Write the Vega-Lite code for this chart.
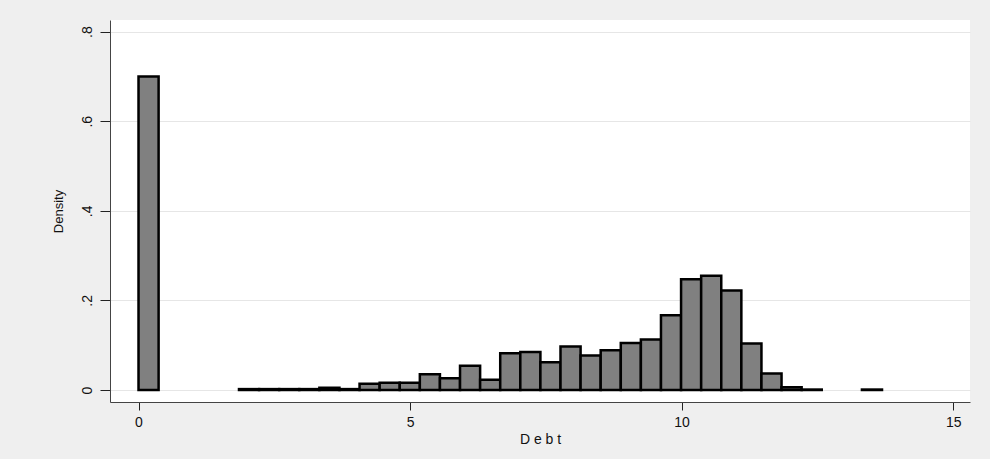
{
  "$schema": "https://vega.github.io/schema/vega-lite/v6.json",
  "width": 860,
  "height": 382,
  "autosize": {"type": "none"},
  "padding": {"left": 110, "top": 20, "right": 20, "bottom": 57},
  "background": "#efefef",
  "view": {"fill": "#ffffff", "stroke": null},
  "config": {
    "font": "Liberation Sans",
    "axis": {"labelFont": "Liberation Sans", "titleFont": "Liberation Sans", "labelColor": "#111111", "titleColor": "#111111", "titleFontWeight": "normal"}
  },
  "data": {
    "values": [
      {"lo": 0.00, "hi": 0.37, "density": 0.700},
      {"lo": 1.85, "hi": 2.22, "density": 0.002},
      {"lo": 2.22, "hi": 2.59, "density": 0.002},
      {"lo": 2.59, "hi": 2.96, "density": 0.002},
      {"lo": 2.96, "hi": 3.33, "density": 0.002},
      {"lo": 3.33, "hi": 3.70, "density": 0.005},
      {"lo": 3.70, "hi": 4.07, "density": 0.002},
      {"lo": 4.07, "hi": 4.44, "density": 0.014},
      {"lo": 4.44, "hi": 4.81, "density": 0.016},
      {"lo": 4.81, "hi": 5.18, "density": 0.016},
      {"lo": 5.18, "hi": 5.55, "density": 0.035},
      {"lo": 5.55, "hi": 5.92, "density": 0.026},
      {"lo": 5.92, "hi": 6.29, "density": 0.054},
      {"lo": 6.29, "hi": 6.66, "density": 0.023},
      {"lo": 6.66, "hi": 7.03, "density": 0.082},
      {"lo": 7.03, "hi": 7.40, "density": 0.085},
      {"lo": 7.40, "hi": 7.77, "density": 0.062},
      {"lo": 7.77, "hi": 8.14, "density": 0.097},
      {"lo": 8.14, "hi": 8.51, "density": 0.077},
      {"lo": 8.51, "hi": 8.88, "density": 0.089},
      {"lo": 8.88, "hi": 9.25, "density": 0.105},
      {"lo": 9.25, "hi": 9.62, "density": 0.113},
      {"lo": 9.62, "hi": 9.99, "density": 0.167},
      {"lo": 9.99, "hi": 10.36, "density": 0.247},
      {"lo": 10.36, "hi": 10.73, "density": 0.255},
      {"lo": 10.73, "hi": 11.10, "density": 0.222},
      {"lo": 11.10, "hi": 11.47, "density": 0.104},
      {"lo": 11.47, "hi": 11.84, "density": 0.037},
      {"lo": 11.84, "hi": 12.21, "density": 0.006},
      {"lo": 12.21, "hi": 12.58, "density": 0.001},
      {"lo": 13.32, "hi": 13.69, "density": 0.001}
    ]
  },
  "mark": {"type": "rect", "fill": "#808080", "stroke": "#000000", "strokeWidth": 2.5, "strokeJoin": "miter"},
  "encoding": {
    "x": {
      "field": "lo",
      "type": "quantitative",
      "scale": {"domain": [-0.525, 15.31], "nice": false, "zero": false},
      "axis": {
        "values": [0, 5, 10, 15],
        "format": "d",
        "title": "D e b t",
        "titleFontSize": 14,
        "titlePadding": 3,
        "labelFontSize": 14,
        "labelPadding": 5,
        "labelFlush": false,
        "tickSize": 8,
        "tickColor": "#222222",
        "domainColor": "#444444",
        "grid": false
      }
    },
    "x2": {"field": "hi"},
    "y": {
      "field": "density",
      "type": "quantitative",
      "scale": {"domain": [-0.0268, 0.826], "nice": false, "zero": false},
      "axis": {
        "values": [0, 0.2, 0.4, 0.6, 0.8],
        "labelExpr": "datum.value === 0 ? '0' : substring(format(datum.value, '.1f'), 1)",
        "title": "Density",
        "titleFontSize": 13,
        "titlePadding": 15,
        "labelFontSize": 14,
        "labelAngle": -90,
        "labelAlign": "center",
        "labelBaseline": "bottom",
        "labelPadding": 6,
        "labelFlush": false,
        "tickSize": 10,
        "tickColor": "#222222",
        "domainColor": "#444444",
        "grid": true,
        "gridColor": "#e6e6e6",
        "gridWidth": 1.2
      }
    },
    "y2": {"datum": 0}
  }
}
